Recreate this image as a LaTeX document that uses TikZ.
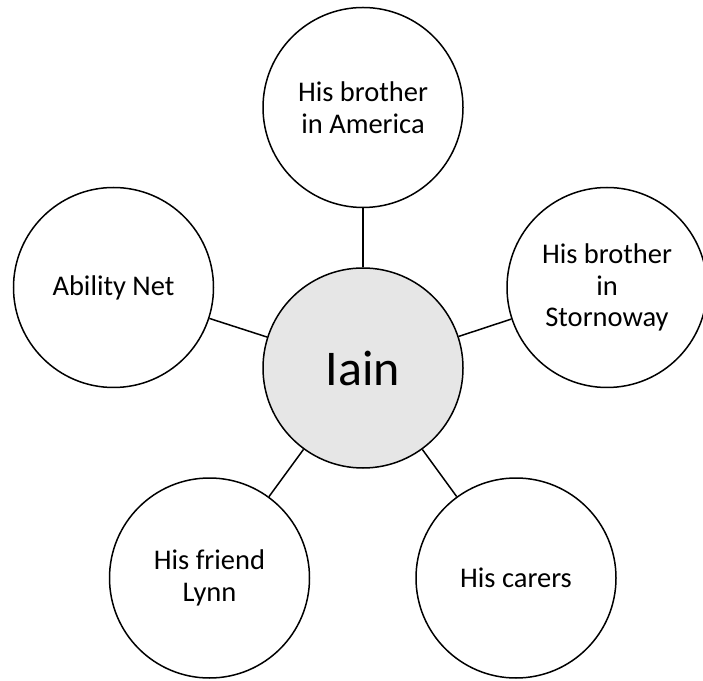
\documentclass[tikz,border=0pt]{standalone}
\usepackage{fontspec}
\setmainfont{Carlito}
\usepackage{tikz}
\usetikzlibrary{positioning}
\definecolor{ink}{HTML}{000000}
\definecolor{hubfill}{HTML}{E6E6E6}
\newcommand{\Bubble}{\fontsize{28.5}{31.5}\selectfont}
\newcommand{\Hub}{\fontsize{50}{56}\selectfont}

\begin{document}
\begin{tikzpicture}[x=1pt,y=1pt, font=\Bubble,
    bubble/.style={circle,draw=ink,line width=1.5pt,fill=white,minimum size=200pt,
      inner sep=0pt,align=center,text=ink},
    link/.style={draw=ink,line width=1.5pt}]
      \useasboundingbox (0,0) rectangle (703,680);
      \node[bubble,fill=hubfill,font=\Hub] (iain) at (363,312){Iain};
      % PEOPLE AROUND IAIN
      \foreach \nm/\x/\y/\txt in {america/363/572.5/{His brother\\in America},
          abilitynet/113.5/392.5/{Ability Net},
          stornoway/607/392.5/{His brother\\in\\Stornoway},
          lynn/209.5/102/{His friend\\Lynn},
          carers/516/102/{His carers}}{
        \node[bubble] (\nm) at (\x,\y){\txt};
        \draw[link] (iain) -- (\nm);}
    \end{tikzpicture}
\end{document}
